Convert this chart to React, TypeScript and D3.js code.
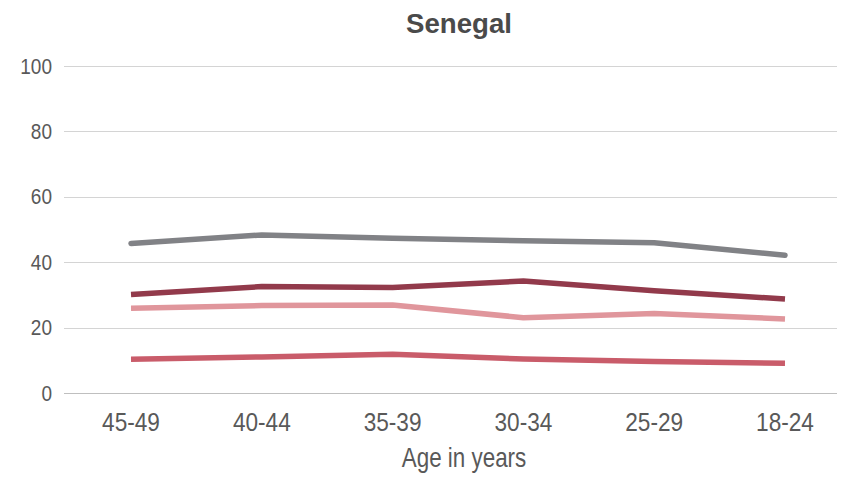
import { useEffect, useRef } from "react";
import * as d3 from "d3";

const ageGroups = ["45-49", "40-44", "35-39", "30-34", "25-29", "18-24"];
const yTicks = [0, 20, 40, 60, 80, 100];

const grayValues = [45.8, 48.4, 47.4, 46.6, 46.0, 42.2];
const darkRedValues = [30.2, 32.6, 32.3, 34.3, 31.3, 28.8];
const pinkValues = [26.0, 26.8, 27.0, 23.1, 24.4, 22.7];
const redValues = [10.4, 11.1, 11.9, 10.5, 9.7, 9.2];

const seriesList = [
  { name: "gray", values: grayValues, color: "#818286", cap: "round" },
  { name: "darkRed", values: darkRedValues, color: "#923a4b", cap: "butt" },
  { name: "pink", values: pinkValues, color: "#e0969c", cap: "butt" },
  { name: "red", values: redValues, color: "#c95c6a", cap: "butt" },
];

const FONT = "'Liberation Sans', Arial, sans-serif";

type Sel = d3.Selection<SVGGElement | SVGSVGElement, unknown, null, undefined>;

// text squeezed horizontally to mimic the condensed face of the original
function addText(
  parent: Sel,
  x: number,
  y: number,
  str: string,
  size: number,
  sx: number,
  anchor: string,
  opts: { weight?: string; fill?: string; dy?: string } = {}
) {
  parent
    .append("text")
    .attr("transform", `translate(${x},${y}) scale(${sx},1)`)
    .attr("dy", opts.dy ?? null)
    .attr("text-anchor", anchor)
    .attr("font-family", FONT)
    .attr("font-size", size)
    .attr("font-weight", opts.weight ?? "normal")
    .attr("fill", opts.fill ?? "#595959")
    .text(str);
}

export default function App() {
  const svgRef = useRef<SVGSVGElement>(null);

  useEffect(() => {
    if (!svgRef.current) return;
    const width = 846;
    const height = 482;
    const svg = d3.select(svgRef.current) as unknown as Sel;
    svg.selectAll("*").remove();
    svg.attr("width", width).attr("height", height);

    const plotLeft = 64;
    const plotRight = 837;

    const x = d3.scalePoint<string>().domain(ageGroups).range([131, 785]);
    const y = d3.scaleLinear().domain([0, 100]).range([393.3, 66]);

    addText(svg, 459, 33.3, "Senegal", 28.5, 0.97, "middle", {
      weight: "bold",
      fill: "#4a4a4a",
    });

    const grid = svg.append("g") as unknown as Sel;
    yTicks.forEach((t) => {
      grid
        .append("line")
        .attr("x1", plotLeft)
        .attr("x2", plotRight)
        .attr("y1", Math.round(y(t)) + 0.5)
        .attr("y2", Math.round(y(t)) + 0.5)
        .attr("stroke", t === 0 ? "#bfbfbf" : "#d4d4d4")
        .attr("stroke-width", 1);
      addText(grid, 52, y(t) + 7.5, String(t), 21.6, 0.88, "end");
    });

    const xAxis = svg.append("g") as unknown as Sel;
    ageGroups.forEach((g) => {
      addText(xAxis, x(g)!, 431, g, 26, 0.87, "middle");
    });

    addText(svg, 464, 467.3, "Age in years", 27, 0.83, "middle");

    const line = d3
      .line<number>()
      .x((_d, i) => x(ageGroups[i])!)
      .y((d) => y(d));

    seriesList.forEach((s) => {
      svg
        .append("path")
        .datum(s.values)
        .attr("fill", "none")
        .attr("stroke", s.color)
        .attr("stroke-width", 5.5)
        .attr("stroke-linecap", s.cap)
        .attr("stroke-linejoin", "round")
        .attr("d", line);
    });
  }, []);

  return (
    <div
      style={{
        position: "absolute",
        left: 0,
        top: 0,
        width: 846,
        height: 482,
        background: "#fff",
      }}
    >
      <svg ref={svgRef} style={{ display: "block" }} />
    </div>
  );
}
